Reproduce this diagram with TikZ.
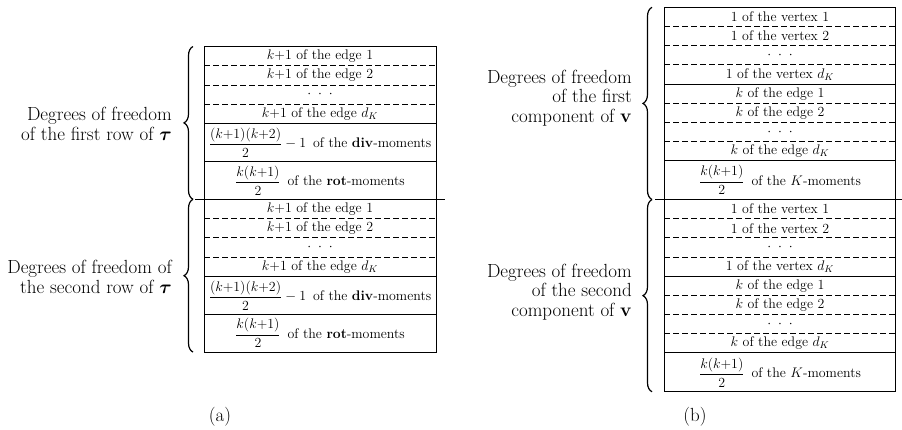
\IfFileExists{fix-cm.sty}{\RequirePackage{fix-cm}}{}
\documentclass[tikz,border=0pt]{standalone}
\usepackage{amsmath,bm}
\usetikzlibrary{decorations.pathreplacing}
\newcommand{\rsbox}{\fontsize{13.9}{15.5}\selectfont}
\newcommand{\rslbl}{\fontsize{19}{19.3}\selectfont}
\newcommand{\rsdots}{$\cdot$\hspace{0.5em}$\cdot$\hspace{0.5em}$\cdot$}
\newcommand{\rsgap}{\hspace{0.5em}}
\begin{document}
\begin{tikzpicture}[x=1pt,y=-1pt,
  solidline/.style={line width=1pt},
  dashline/.style={line width=0.85pt,dash pattern=on 5.5pt off 3.5pt},
  rowtext/.style={font=\rsbox,inner sep=0pt},
  lbl/.style={font=\rslbl,align=right,anchor=east,inner sep=0pt},
  captext/.style={font=\rslbl,inner sep=0pt},
  bracestyle/.style={decorate,decoration={brace,amplitude=9pt},line width=1.2pt}]
\useasboundingbox (0,0) rectangle (902,429);

% ---------------- panel (a) ----------------
\draw[solidline] (204,46.5) rectangle (436,352.1);
\foreach \o in {0,152.8}{
  \draw[dashline] (204,{65.8+\o}) -- (436,{65.8+\o});
  \draw[dashline] (204,{85.1+\o}) -- (436,{85.1+\o});
  \draw[dashline] (204,{104.4+\o}) -- (436,{104.4+\o});
  \draw[solidline] (204,{123.7+\o}) -- (436,{123.7+\o});
  \draw[solidline] (204,{161.5+\o}) -- (436,{161.5+\o});
}
\draw[solidline] (195,199.3) -- (445,199.3);

\node[rowtext] (a1) at (320,56.15) {$k{+}1$ of the edge 1};
\node[rowtext] (a2) at (320,75.45) {$k{+}1$ of the edge 2};
\node[rowtext] (a3) at (320,94.75) {\rsdots};
\node[rowtext] (a4) at (320,114.05) {$k{+}1$ of the edge $d_K$};
\node[rowtext] (a5) at (320,142.6) {$\dfrac{(k{+}1)(k{+}2)}{2}-1$\rsgap of the \textbf{div}-moments};
\node[rowtext] (a6) at (320,180.4) {$\dfrac{k(k{+}1)}{2}$\rsgap of the \textbf{rot}-moments};

\node[rowtext] (a7) at (320,208.95) {$k{+}1$ of the edge 1};
\node[rowtext] (a8) at (320,228.25) {$k{+}1$ of the edge 2};
\node[rowtext] (a9) at (320,247.55) {\rsdots};
\node[rowtext] (a10) at (320,266.85) {$k{+}1$ of the edge $d_K$};
\node[rowtext] (a11) at (320,295.4) {$\dfrac{(k{+}1)(k{+}2)}{2}-1$\rsgap of the \textbf{div}-moments};
\node[rowtext] (a12) at (320,333.2) {$\dfrac{k(k{+}1)}{2}$\rsgap of the \textbf{rot}-moments};

\draw[bracestyle] (193,199.3) -- (193,46.5);
\draw[bracestyle] (193,352.1) -- (193,199.3);

\node[lbl] (la1) at (172,124) {Degrees of freedom\\of the first row of $\bm{\tau}$};
\node[lbl] (la2) at (172,277) {Degrees of freedom of\\the second row of $\bm{\tau}$};

\node[captext] (capa) at (220,417) {(a)};

% ---------------- panel (b) ----------------
\draw[solidline] (664.3,7.3) rectangle (895.7,391.78);
\foreach \o in {0,192.24}{
  \draw[dashline] (664.3,{26.48+\o}) -- (895.7,{26.48+\o});
  \draw[dashline] (664.3,{45.66+\o}) -- (895.7,{45.66+\o});
  \draw[dashline] (664.3,{64.84+\o}) -- (895.7,{64.84+\o});
  \draw[solidline] (664.3,{84.02+\o}) -- (895.7,{84.02+\o});
  \draw[dashline] (664.3,{103.2+\o}) -- (895.7,{103.2+\o});
  \draw[dashline] (664.3,{122.38+\o}) -- (895.7,{122.38+\o});
  \draw[dashline] (664.3,{141.56+\o}) -- (895.7,{141.56+\o});
  \draw[solidline] (664.3,{160.74+\o}) -- (895.7,{160.74+\o});
}
\draw[solidline] (655,199.54) -- (902,199.54);

\node[rowtext] (b1) at (780,16.89) {1 of the vertex 1};
\node[rowtext] (b2) at (780,36.07) {1 of the vertex 2};
\node[rowtext] (b3) at (780,55.25) {\rsdots};
\node[rowtext] (b4) at (780,74.43) {1 of the vertex $d_K$};
\node[rowtext] (b5) at (780,93.61) {$k$ of the edge 1};
\node[rowtext] (b6) at (780,112.79) {$k$ of the edge 2};
\node[rowtext] (b7) at (780,131.97) {\rsdots};
\node[rowtext] (b8) at (780,151.15) {$k$ of the edge $d_K$};
\node[rowtext] (b9) at (780,180.14) {$\dfrac{k(k{+}1)}{2}$\rsgap of the $K$-moments};

\node[rowtext] (b10) at (780,209.13) {1 of the vertex 1};
\node[rowtext] (b11) at (780,228.31) {1 of the vertex 2};
\node[rowtext] (b12) at (780,247.49) {\rsdots};
\node[rowtext] (b13) at (780,266.67) {1 of the vertex $d_K$};
\node[rowtext] (b14) at (780,285.85) {$k$ of the edge 1};
\node[rowtext] (b15) at (780,305.03) {$k$ of the edge 2};
\node[rowtext] (b16) at (780,324.21) {\rsdots};
\node[rowtext] (b17) at (780,343.39) {$k$ of the edge $d_K$};
\node[rowtext] (b18) at (780,372.38) {$\dfrac{k(k{+}1)}{2}$\rsgap of the $K$-moments};

\draw[bracestyle] (652,199.54) -- (652,7.3);
\draw[bracestyle] (652,391.78) -- (652,199.54);

\node[lbl] (lb1) at (632,98) {Degrees of freedom\\of the first\\component of $\mathbf{v}$};
\node[lbl] (lb2) at (632,292) {Degrees of freedom\\of the second\\component of $\mathbf{v}$};

\node[captext] (capb) at (695,417) {(b)};
\end{tikzpicture}
\end{document}
